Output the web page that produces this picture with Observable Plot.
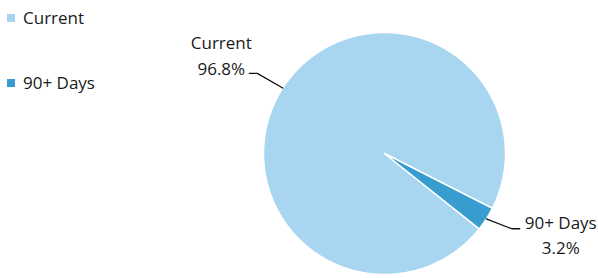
<!DOCTYPE html>
<html><head><meta charset="utf-8">
<script src="https://cdn.jsdelivr.net/npm/d3@7"></script>
<script src="https://cdn.jsdelivr.net/npm/@observablehq/plot@0.6"></script>
<style>
body{margin:0;background:#fff;font-family:"Open Sans",sans-serif;}
#wrap{position:relative;width:598px;height:278px;overflow:hidden;}
#chart{position:absolute;left:0;top:0;}
.item{position:absolute;left:23px;white-space:nowrap;font-size:17px;line-height:17px;color:#1a1a1a;}
.sw{position:absolute;left:7px;width:8px;height:8px;}
</style></head><body><div id="wrap"><div id="chart"></div></div>
<script>
const categories = ["Current", "90+ Days"];
const values = [96.8, 3.2];
const percentLabels = ["96.8%", "3.2%"];

const W = 598, H = 278, CX = 384, CY = 153, R = 121;
const startDeg = 128.5;
const palette = ["#a8d5f0", "#379dcf"];

const rows = categories.map((c, i) => ({category: c, value: values[i], pct: percentLabels[i]}));
const a0 = startDeg * Math.PI / 180;
const arcs = d3.pie().sort(null).value(d => d.value).startAngle(a0).endAngle(a0 + 2 * Math.PI)(rows);

const pts = [];
const leaders = [];
const labels = [];
for (const a of arcs) {
  const c = a.data.category;
  pts.push({category: c, x: 0, y: 0});
  const n = Math.max(4, Math.ceil((a.endAngle - a.startAngle) / (Math.PI / 360)));
  for (let k = 0; k <= n; k++) {
    const t = a.startAngle + (a.endAngle - a.startAngle) * k / n;
    pts.push({category: c, x: Math.sin(t), y: Math.cos(t)});
  }
  const mid = (a.startAngle + a.endAngle) / 2;
  const ex = Math.sin(mid), ey = Math.cos(mid);
  const side = ex < 0 ? -1 : 1;
  const bx = ex + ex * 0.25, by = ey + ey * (side < 0 ? 0.225 : 0.15);
  const hx = bx + side * 8 / R;
  leaders.push({category: c, x: ex, y: ey}, {category: c, x: bx, y: by}, {category: c, x: hx, y: by});
  labels.push({category: c, pct: a.data.pct, side, x: hx + side * (side < 0 ? 28 : 41) / R, y: by});
}

const fs = 17;
const textMarks = [];
for (const l of labels) {
  const nameDy = l.side < 0 ? -29.4 : -5.4;
  const pctDy = l.side < 0 ? -3.4 : 19.3;
  textMarks.push(Plot.text([l], {x: "x", y: "y", text: "category", textAnchor: "middle", dy: nameDy, fontSize: fs, fill: "#1a1a1a"}));
  textMarks.push(Plot.text([l], {x: "x", y: "y", text: "pct", textAnchor: "middle", dy: pctDy, fontSize: fs, fill: "#1a1a1a"}));
}

const chart = Plot.plot({
  width: W, height: H, margin: 0,
  style: {fontFamily: "'Open Sans', sans-serif", background: "white", overflow: "visible"},
  x: {domain: [-CX / R, (W - CX) / R], axis: null},
  y: {domain: [-(H - CY) / R, CY / R], axis: null},
  color: {domain: categories, range: palette},
  marks: [
    Plot.line(pts, {x: "x", y: "y", z: "category", fill: "category", stroke: "white", strokeWidth: 1.5, curve: "linear-closed"}),
    Plot.line(leaders, {x: "x", y: "y", z: "category", stroke: "#111", strokeWidth: 1.3}),
    ...textMarks
  ]
});
document.getElementById("chart").appendChild(chart);

const wrap = document.getElementById("wrap");
const legendTops = [9, 74];
categories.forEach((c, i) => {
  const sw = document.createElement("div");
  sw.className = "sw";
  sw.style.top = (legendTops[i] + 5) + "px";
  sw.style.background = palette[i];
  wrap.appendChild(sw);
  const t = document.createElement("div");
  t.className = "item";
  t.style.top = legendTops[i] + "px";
  t.textContent = c;
  wrap.appendChild(t);
});
</script>
</body></html>
